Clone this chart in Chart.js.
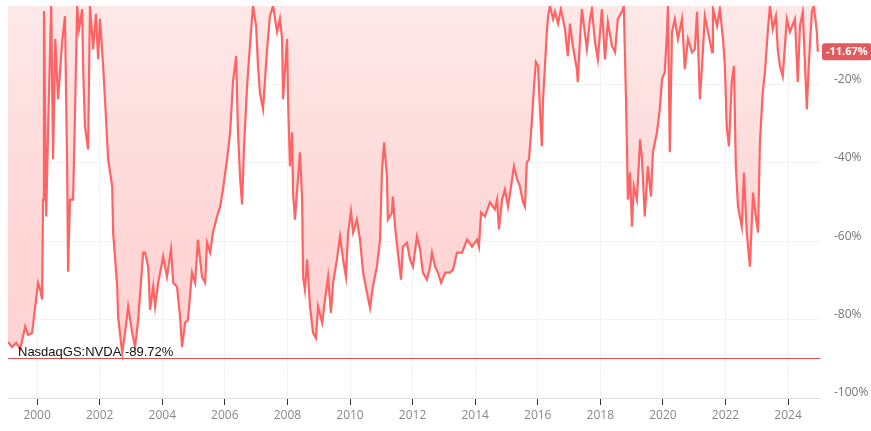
<!DOCTYPE html>
<html>
<head>
<meta charset="utf-8">
<script src="https://cdn.jsdelivr.net/npm/chart.js@4.4.1/dist/chart.umd.min.js"></script>
<style>
  html, body { margin: 0; padding: 0; background: #fff; }
  #wrap { width: 871px; height: 431px; }
</style>
</head>
<body>
<div id="wrap"><canvas id="canvas"></canvas></div>
<script>
// decimal years
const years = [1999.07,1999.20,1999.33,1999.46,1999.62,1999.71,1999.84,1999.94,2000.03,2000.10,
  2000.16,2000.19,2000.22,2000.29,2000.35,2000.45,2000.51,2000.58,2000.67,2000.80,
  2000.89,2000.96,2000.99,2001.05,2001.15,2001.21,2001.28,2001.34,2001.44,2001.47,
  2001.53,2001.63,2001.69,2001.79,2001.88,2001.95,2002.01,2002.11,2002.17,2002.27,
  2002.40,2002.43,2002.56,2002.59,2002.72,2002.81,2002.91,2003.04,2003.13,2003.23,
  2003.39,2003.45,2003.55,2003.61,2003.71,2003.77,2003.87,2004.03,2004.15,2004.28,
  2004.35,2004.47,2004.57,2004.63,2004.73,2004.82,2004.95,2005.05,2005.14,2005.27,
  2005.37,2005.43,2005.53,2005.62,2005.75,2005.85,2005.94,2006.07,2006.17,2006.26,
  2006.36,2006.42,2006.49,2006.55,2006.61,2006.71,2006.81,2006.90,2007.00,2007.06,
  2007.12,2007.22,2007.35,2007.44,2007.54,2007.67,2007.76,2007.83,2007.86,2007.99,
  2008.02,2008.08,2008.15,2008.18,2008.24,2008.31,2008.40,2008.47,2008.50,2008.56,
  2008.63,2008.72,2008.82,2008.91,2008.98,2009.11,2009.20,2009.30,2009.39,2009.46,
  2009.58,2009.68,2009.78,2009.87,2009.94,2010.03,2010.10,2010.22,2010.32,2010.42,
  2010.54,2010.64,2010.73,2010.86,2010.96,2011.02,2011.09,2011.18,2011.21,2011.34,
  2011.37,2011.44,2011.53,2011.63,2011.69,2011.82,2011.92,2012.01,2012.14,2012.24,
  2012.33,2012.46,2012.56,2012.62,2012.72,2012.81,2012.91,2013.04,2013.19,2013.29,
  2013.42,2013.58,2013.74,2013.90,2014.06,2014.12,2014.19,2014.31,2014.47,2014.63,
  2014.70,2014.76,2014.86,2014.95,2015.05,2015.18,2015.24,2015.34,2015.43,2015.53,
  2015.59,2015.65,2015.72,2015.81,2015.88,2015.94,2016.01,2016.07,2016.13,2016.17,
  2016.23,2016.29,2016.33,2016.39,2016.49,2016.55,2016.65,2016.74,2016.87,2016.96,
  2017.03,2017.12,2017.25,2017.28,2017.35,2017.41,2017.57,2017.67,2017.73,2017.83,
  2017.92,2018.05,2018.15,2018.24,2018.37,2018.47,2018.56,2018.69,2018.75,2018.82,
  2018.85,2018.88,2018.95,2019.01,2019.07,2019.17,2019.27,2019.33,2019.42,2019.52,
  2019.62,2019.68,2019.81,2019.90,2019.97,2020.06,2020.13,2020.16,2020.22,2020.29,
  2020.38,2020.48,2020.61,2020.70,2020.80,2020.93,2021.02,2021.09,2021.18,2021.25,
  2021.34,2021.44,2021.57,2021.60,2021.73,2021.82,2021.92,2021.98,2022.04,2022.11,
  2022.20,2022.27,2022.33,2022.40,2022.52,2022.59,2022.68,2022.78,2022.88,2022.97,
  2023.04,2023.10,2023.19,2023.26,2023.35,2023.42,2023.51,2023.61,2023.67,2023.74,
  2023.83,2023.96,2024.06,2024.22,2024.31,2024.38,2024.47,2024.60,2024.66,2024.76,
  2024.82,2024.92,2024.95];

// drawdown from peak, %
const drawdown = [-85.7,-87.0,-85.9,-87.5,-81.8,-83.9,-83.4,-76.7,-70.6,-72.4,
  -74.9,-49.4,-1.3,-53.7,-32.2,0,-39.1,-8.4,-23.8,-9.2,
  -2.6,-40.9,-67.8,-49.4,-49.4,-28.1,0,-5.9,-0.8,-15.3,
  -30.7,-36.6,0,-11.0,-2.0,-13.6,-3.3,-15.3,-23.8,-39.1,
  -46.0,-57.8,-71.6,-79.3,-88.5,-83.4,-76.7,-83.4,-87.0,-80.1,
  -62.9,-62.9,-66.5,-77.5,-71.6,-76.7,-70.6,-63.9,-69.1,-62.1,
  -70.6,-71.6,-79.3,-87.0,-80.8,-80.1,-68.0,-70.6,-59.6,-69.1,
  -70.6,-60.4,-62.9,-57.8,-53.7,-51.2,-46.8,-39.1,-32.2,-19.4,
  -12.8,-32.2,-44.2,-50.6,-36.6,-20.5,-9.2,0,-5.1,-15.3,
  -22.0,-26.3,-11.0,-2.6,0,-6.6,-3.3,-8.4,-23.8,-8.4,
  -23.8,-40.9,-32.2,-47.6,-54.5,-46.8,-37.3,-49.4,-69.1,-72.4,
  -64.7,-76.7,-83.4,-84.7,-76.7,-80.8,-74.9,-69.1,-78.3,-70.6,
  -64.7,-58.8,-64.7,-69.1,-57.8,-52.4,-57.8,-54.5,-59.6,-68.0,
  -73.1,-77.0,-71.6,-66.5,-59.6,-42.5,-34.8,-43.5,-54.5,-52.7,
  -48.6,-56.3,-62.9,-69.8,-61.4,-60.4,-64.7,-66.5,-58.8,-62.1,
  -68.0,-69.8,-66.5,-62.9,-66.5,-68.0,-70.6,-68.0,-68.0,-67.3,
  -62.9,-62.9,-59.6,-61.4,-59.6,-61.4,-52.7,-53.7,-50.1,-51.9,
  -49.4,-57.0,-49.4,-46.8,-51.2,-44.2,-40.9,-44.2,-46.0,-50.1,
  -51.2,-39.9,-39.1,-29.7,-20.5,-14.3,-15.3,-26.3,-35.8,-23.8,
  -15.3,-6.6,-2.6,0,-3.3,-1.5,-4.5,-0.8,-5.9,-12.8,
  -4.5,-10.2,-16.1,-19.4,-8.4,-0.8,-11.0,-3.3,-0.8,-9.2,
  -13.6,-0.8,-13.6,-4.1,-10.2,-11.8,-3.3,-1.5,0,-23.8,
  -35.8,-49.4,-42.5,-56.3,-46.0,-49.4,-34.0,-39.1,-53.7,-40.9,
  -48.6,-37.3,-32.2,-26.3,-18.7,-16.9,-6.6,0,-37.3,-6.6,
  -3.3,-8.4,-3.3,-16.1,-8.4,-11.8,-11.0,-1.5,-23.8,-15.3,
  -2.6,-6.6,-11.8,-0.8,-5.1,-0.8,-8.4,-15.3,-30.7,-35.8,
  -19.4,-15.3,-40.9,-51.2,-56.3,-42.5,-57.8,-66.5,-47.6,-53.7,
  -57.8,-34.8,-22.0,-16.9,-6.6,0,-5.9,-2.6,-11.0,-15.3,
  -17.9,-3.3,-6.6,-3.3,-19.4,-5.1,-1.5,-26.3,-15.3,-1.5,
  0,-6.6,-11.67];

const xTickYears = [2000,2002,2004,2006,2008,2010,2012,2014,2016,2018,2020,2022,2024];
const yTickValues = [-100,-80,-60,-40,-20,0];
const maxDrawdown = -89.72;
const maxDrawdownLabel = 'NasdaqGS:NVDA -89.72%';
const lastValue = drawdown[drawdown.length - 1];

const points = years.map((x, i) => ({ x: x, y: drawdown[i] }));

const overlay = {
  id: 'overlay',
  afterDatasetsDraw(chart) {
    const ctx = chart.ctx;
    const area = chart.chartArea;
    const ys = chart.scales.y;
    // max drawdown line
    const ly = Math.round(ys.getPixelForValue(maxDrawdown)) + 0.5;
    ctx.save();
    ctx.strokeStyle = '#dc4e50';
    ctx.lineWidth = 1;
    ctx.beginPath();
    ctx.moveTo(area.left, ly);
    ctx.lineTo(area.right, ly);
    ctx.stroke();
    ctx.fillStyle = '#111';
    ctx.font = '13px "Liberation Sans", Arial, sans-serif';
    ctx.textBaseline = 'alphabetic';
    ctx.textAlign = 'left';
    ctx.fillText(maxDrawdownLabel, area.left + 10, ly - 3);
    // last value badge
    const by = ys.getPixelForValue(lastValue);
    const txt = lastValue.toFixed(2) + '%';
    ctx.font = 'bold 11px "Open Sans", sans-serif';
    const w = ctx.measureText(txt).width + 8;
    const bx = area.right + 2, bh = 17;
    ctx.fillStyle = '#e25a5c';
    ctx.beginPath();
    ctx.roundRect(bx, by - bh / 2, w, bh, 3);
    ctx.fill();
    ctx.fillStyle = '#fff';
    ctx.textBaseline = 'middle';
    ctx.fillText(txt, bx + 4, by + 0.5);
    ctx.restore();
  }
};

const canvas = document.getElementById('canvas');

const data = {
  datasets: [{
    data: points,
    borderColor: '#ff6363',
    borderWidth: 2.2,
    pointRadius: 0,
    tension: 0,
    fill: 'end',
    backgroundColor: (c) => {
      const a = c.chart.chartArea;
      if (!a) return 'rgba(255,210,210,0.6)';
      const g = c.chart.ctx.createLinearGradient(0, a.top, 0, a.bottom);
      g.addColorStop(0, '#fde8e8');
      g.addColorStop(0.6, '#ffd6d6');
      g.addColorStop(1, '#ffd2d2');
      return g;
    }
  }]
};

const config = {
  type: 'line',
  data: data,
  plugins: [overlay],
  options: {
    responsive: true,
    maintainAspectRatio: false,
    animation: false,
    layout: { padding: { top: 6, left: 8, right: 0, bottom: 0 } },
    plugins: { legend: { display: false }, tooltip: { enabled: false } },
    scales: {
      x: {
        type: 'linear',
        min: 1999.07,
        max: 2025.02,
        afterBuildTicks: (s) => { s.ticks = xTickYears.map(v => ({ value: v })); },
        afterFit: (s) => { s.height = 33; s.paddingLeft = 0; s.paddingRight = 0; },
        grid: { color: '#f3f3f3', tickColor: '#333', tickLength: 7, drawTicks: true },
        border: { color: '#dedede' },
        ticks: {
          color: '#888',
          padding: 3,
          maxRotation: 0,
          font: { family: '"Open Sans", sans-serif', size: 12 },
          callback: (v) => String(v)
        }
      },
      y: {
        position: 'right',
        min: -100,
        max: 0,
        afterBuildTicks: (s) => { s.ticks = yTickValues.map(v => ({ value: v })); },
        afterFit: (s) => { s.width = 51; s.paddingTop = 0; s.paddingBottom = 0; },
        grid: { color: '#f3f3f3', drawTicks: false },
        border: { display: false },
        ticks: {
          color: '#777',
          padding: 14,
          labelOffset: -5,
          font: { family: '"Open Sans", sans-serif', size: 12 },
          callback: (v) => v === 0 ? '' : v + '%'
        }
      }
    }
  }
};

const chart = new Chart(canvas, config);
</script>
</body>
</html>
